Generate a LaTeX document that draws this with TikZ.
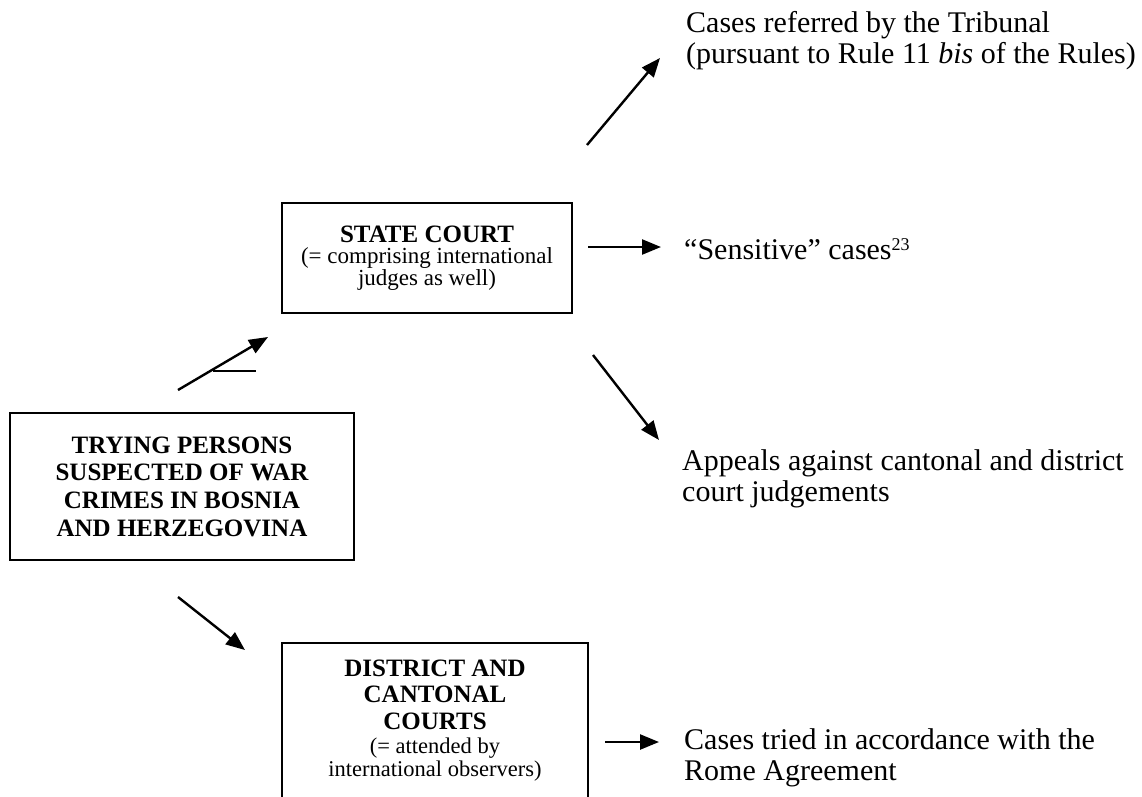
\documentclass[tikz,border=0pt]{standalone}
\usepackage{fontspec}
\setmainfont{Liberation Serif}
\usetikzlibrary{arrows.meta}
\begin{document}
\begin{tikzpicture}[x=1pt,y=-1pt,
  box/.style={draw,line width=2.2pt,align=center,inner sep=0pt},
  conn/.style={line width=2.4pt,-{Triangle[length=19pt,width=15pt]}},
  outtext/.style={anchor=base west,align=left,inner sep=0pt,font=\fontsize{30}{30.5}\selectfont}]
\useasboundingbox (0,0) rectangle (1142,796);
\clip (0,0) rectangle (1142,796);

% boxes
\node[box, minimum width=344pt, minimum height=147pt,
      font=\fontsize{25}{27.7}\selectfont\bfseries] (trying) at (182,486.5)
  {TRYING PERSONS\\SUSPECTED OF WAR\\CRIMES IN BOSNIA\\AND HERZEGOVINA};

\node[box, minimum width=290pt, minimum height=110pt,
      font=\fontsize{25}{26.5}\selectfont] (state) at (427,258)
  {\textbf{STATE COURT}\\[-5pt]{\fontsize{23}{22}\selectfont (= comprising international}\\[-4.5pt]{\fontsize{23}{22}\selectfont judges as well)}};

\node[box, anchor=north, minimum width=306pt, inner ysep=16.5pt,
      font=\fontsize{25}{26.5}\selectfont] (district) at (435,642)
  {\textbf{DISTRICT AND}\\\textbf{CANTONAL}\\\textbf{COURTS}\\[-2.5pt]{\fontsize{22.5}{22}\selectfont (= attended by}\\[-3.5pt]{\fontsize{22.5}{22}\selectfont international observers)}\rule[-60pt]{0pt}{0pt}};

% outcome texts (anchored at the baseline of their last line)
\node[outtext] (referred) at (686,63)
  {Cases referred by the Tribunal\\(pursuant to Rule 11 \textit{bis} of the Rules)};
\node[outtext] (sensitive) at (684,259)
  {“Sensitive” cases\raisebox{9pt}{\fontsize{18}{18}\selectfont 23}};
\node[outtext] (appeals) at (682,501)
  {Appeals against cantonal and district\\court judgements};
\node[outtext] (rome) at (684,780)
  {Cases tried in accordance with the\\Rome Agreement};

% connector end points
\coordinate (a1s) at (178,390);  \coordinate (a1e) at (268,337);
\coordinate (a2s) at (178,597);  \coordinate (a2e) at (245,650);
\coordinate (a3s) at (587,145);  \coordinate (a3e) at (660,58);
\coordinate (a4s) at (588,247);  \coordinate (a4e) at (661,247);
\coordinate (a5s) at (593,355);  \coordinate (a5e) at (659,440);
\coordinate (a6s) at (605,742);  \coordinate (a6e) at (659,742);

\draw[conn] (a1s) -- (a1e);
\draw[conn] (a2s) -- (a2e);
\draw[conn] (a3s) -- (a3e);
\draw[conn] (a4s) -- (a4e);
\draw[conn] (a5s) -- (a5e);
\draw[conn] (a6s) -- (a6e);

% small stray stroke beside the first arrow
\coordinate (s1) at (213,371); \coordinate (s2) at (256,371);
\draw[line width=1.5pt] (s1) -- (s2);
\end{tikzpicture}
\end{document}
